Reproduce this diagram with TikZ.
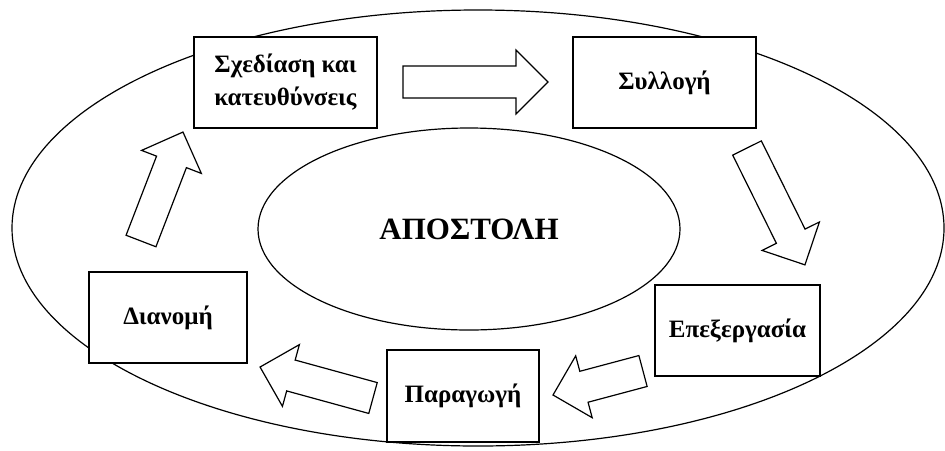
\documentclass[tikz,border=0pt]{standalone}
\usepackage{fontspec}
\setmainfont{Liberation Serif}
\usepackage{tikz}
\usetikzlibrary{calc, shapes.geometric}

% block arrow from one point to another
\newcommand{\blockarrow}[2]{%
  \draw[flow] let \p1=($(#2)-(#1)$), \n1={atan2(\y1,\x1)}, \n2={veclen(\x1,\y1)} in
    [shift={(#1)}, rotate=\n1]
    (0pt,-8pt) -- (\n2-16pt,-8pt) -- (\n2-16pt,-16pt) -- (\n2,0pt)
    -- (\n2-16pt,16pt) -- (\n2-16pt,8pt) -- (0pt,8pt) -- cycle;}

\begin{document}
\begin{tikzpicture}[
    x=0.5pt, y=-0.5pt,
    ring/.style={ellipse, draw, line width=0.6pt, inner sep=0pt},
    stage/.style={rectangle, draw, fill=white, line width=0.8pt, align=center,
                  font=\fontsize{12.5}{16.5}\selectfont\bfseries},
    flow/.style={draw, fill=white, line width=0.6pt, line join=miter}
]
    \useasboundingbox (0,0) rectangle (945,450);

    \node[ring, minimum width=466pt, minimum height=218pt] (outer) at (478,228) {};
    \node[ring, minimum width=211pt, minimum height=101pt,
          font=\fontsize{15.5}{18}\selectfont\bfseries] (mission) at (469,229) {ΑΠΟΣΤΟΛΗ};

    \node[stage, minimum width=91.5pt, minimum height=45.5pt] (plan) at (285.5,82.5) {Σχεδίαση και\\κατευθύνσεις};
    \node[stage, minimum width=91.5pt, minimum height=45.5pt] (collect) at (664.5,82.5) {Συλλογή};
    \node[stage, minimum width=82.5pt, minimum height=45.5pt] (process) at (737.5,330.5) {Επεξεργασία};
    \node[stage, minimum width=76pt, minimum height=46pt] (produce) at (463,396) {Παραγωγή};
    \node[stage, minimum width=79pt, minimum height=45.5pt] (distrib) at (168,317.5) {Διανομή};

    \coordinate (plan-out) at (403,82);
    \coordinate (collect-in) at (548,82);
    \coordinate (collect-out) at (747,148);
    \coordinate (process-in) at (805,265);
    \coordinate (process-out) at (643,371);
    \coordinate (produce-in) at (553,395);
    \coordinate (produce-out) at (373,398);
    \coordinate (distrib-in) at (260,367);
    \coordinate (distrib-out) at (141,241);
    \coordinate (plan-in) at (183,132);

    \blockarrow{plan-out}{collect-in}
    \blockarrow{collect-out}{process-in}
    \blockarrow{process-out}{produce-in}
    \blockarrow{produce-out}{distrib-in}
    \blockarrow{distrib-out}{plan-in}
\end{tikzpicture}
\end{document}
